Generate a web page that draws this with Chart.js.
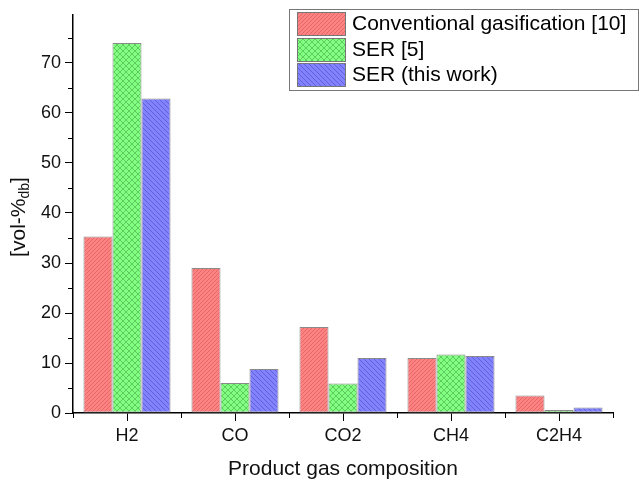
<!DOCTYPE html>
<html>
<head>
<meta charset="utf-8">
<script src="https://cdn.jsdelivr.net/npm/chart.js@4/dist/chart.umd.min.js"></script>
<style>
html,body{margin:0;padding:0;background:#fff;}
#wrap{width:639px;height:482px;}
</style>
</head>
<body>
<div id="wrap"><canvas id="c" width="639" height="482"></canvas></div>
<script>
const categories = ["H2", "CO", "CO2", "CH4", "C2H4"];
const conventional = [35.3, 29.0, 17.2, 11.0, 3.5];
const ser5 = [74.0, 6.0, 5.9, 11.7, 0.6];
const serThisWork = [62.9, 8.8, 11.0, 11.4, 1.1];
const seriesNames = ["Conventional gasification [10]", "SER [5]", "SER (this work)"];
const yTicks = [0, 10, 20, 30, 40, 50, 60, 70];
const yMinorTicks = [5, 15, 25, 35, 45, 55, 65, 75];
const yMax = 79.6;

const FONT = "'Liberation Sans', Arial, sans-serif";

function makePattern(base, lineColor, s, kind) {
  const c = document.createElement('canvas');
  c.width = s; c.height = s;
  const g = c.getContext('2d');
  g.fillStyle = base;
  g.fillRect(0, 0, s, s);
  g.strokeStyle = lineColor;
  g.lineWidth = 0.8;
  function fwd() {
    g.beginPath();
    g.moveTo(-1, s + 1); g.lineTo(s + 1, -1);
    g.moveTo(-1, 1); g.lineTo(1, -1);
    g.moveTo(s - 1, s + 1); g.lineTo(s + 1, s - 1);
    g.stroke();
  }
  function back() {
    g.beginPath();
    g.moveTo(-1, -1); g.lineTo(s + 1, s + 1);
    g.moveTo(s - 1, -1); g.lineTo(s + 1, 1);
    g.moveTo(-1, s - 1); g.lineTo(1, s + 1);
    g.stroke();
  }
  if (kind === 'fwd') fwd();
  else if (kind === 'back') back();
  else { fwd(); back(); }
  return g.createPattern(c, 'repeat');
}

const redPat = makePattern('#ff8282', 'rgba(170,60,60,0.45)', 4, 'fwd');
const greenPat = makePattern('#82ff82', 'rgba(40,130,40,0.5)', 6, 'cross');
const bluePat = makePattern('#8282ff', 'rgba(40,40,140,0.45)', 5, 'back');
const patterns = [redPat, greenPat, bluePat];

const extras = {
  id: 'extras',
  afterDraw(chart) {
    const ctx = chart.ctx;
    const y = chart.scales.y, x = chart.scales.x;
    const area = chart.chartArea;
    ctx.save();
    ctx.strokeStyle = '#000';
    ctx.lineWidth = 1;
    yMinorTicks.forEach(v => {
      const py = Math.round(y.getPixelForValue(v)) + 0.5;
      ctx.beginPath();
      ctx.moveTo(area.left - 5, py);
      ctx.lineTo(area.left, py);
      ctx.stroke();
    });
    for (let i = 0; i <= categories.length; i++) {
      const px = Math.round(x.getPixelForValue(i - 0.5)) + 0.5;
      ctx.beginPath();
      ctx.moveTo(px, area.bottom);
      ctx.lineTo(px, area.bottom + 5);
      ctx.stroke();
    }
    ctx.fillStyle = '#111';
    ctx.textBaseline = 'alphabetic';
    const mainFont = '21px ' + FONT, subFont = '14px ' + FONT;
    ctx.font = mainFont;
    const w1 = ctx.measureText('[vol-%').width;
    const w3 = ctx.measureText(']').width;
    ctx.font = subFont;
    const w2 = ctx.measureText('db').width;
    const total = w1 + w2 + w3;
    const cy = (area.top + area.bottom) / 2 + 3;
    ctx.translate(25, cy);
    ctx.rotate(-Math.PI / 2);
    let tx = -total / 2;
    ctx.font = mainFont;
    ctx.fillText('[vol-%', tx, 0); tx += w1;
    ctx.font = subFont;
    ctx.fillText('db', tx, 4); tx += w2;
    ctx.font = mainFont;
    ctx.fillText(']', tx, 0);
    ctx.restore();

    ctx.save();
    const lx = 289.5, ly = 9.5, lw = 349, lh = 81;
    ctx.fillStyle = '#fff';
    ctx.fillRect(lx, ly, lw, lh);
    ctx.strokeStyle = '#777';
    ctx.lineWidth = 1;
    ctx.strokeRect(lx, ly, lw, lh);
    const rowsY = [12, 38, 63];
    chart.data.datasets.forEach((ds, i) => {
      const sy = rowsY[i];
      ctx.fillStyle = ds.backgroundColor;
      ctx.fillRect(297, sy, 48, 23);
      ctx.strokeStyle = '#777';
      ctx.strokeRect(297.5, sy + 0.5, 48, 23);
      ctx.fillStyle = '#000';
      ctx.font = '21px ' + FONT;
      ctx.textBaseline = 'middle';
      ctx.fillText(ds.label, 352, sy + 12.5);
    });
    ctx.restore();
  }
};

new Chart(document.getElementById('c'), {
  type: 'bar',
  data: {
    labels: categories,
    datasets: [conventional, ser5, serThisWork].map((d, i) => ({
      label: seriesNames[i],
      data: d,
      backgroundColor: patterns[i],
      borderColor: '#8a8a8a',
      borderWidth: 1,
      borderSkipped: false,
      categoryPercentage: 0.806,
      barPercentage: 1.0
    }))
  },
  options: {
    responsive: false,
    animation: false,
    devicePixelRatio: 1,
    layout: { padding: { top: 15, right: 26, left: 0, bottom: 0 } },
    plugins: { legend: { display: false }, tooltip: { enabled: false } },
    scales: {
      x: {
        grid: { display: true, drawOnChartArea: false, offset: false, tickLength: 8, color: '#000', lineWidth: 1 },
        border: { display: true, color: '#000', width: 1.5 },
        ticks: { color: '#111', font: { family: FONT, size: 18 }, padding: 4 },
        title: { display: true, text: 'Product gas composition', color: '#111', font: { family: FONT, size: 21 }, padding: { top: 4, bottom: 0 } },
        afterFit(s) { s.height = 69; }
      },
      y: {
        min: 0,
        max: yMax,
        afterBuildTicks(s) { s.ticks = yTicks.map(v => ({ value: v })); },
        grid: { display: true, drawOnChartArea: false, tickLength: 8, color: '#000', lineWidth: 1 },
        border: { display: true, color: '#000', width: 1.5 },
        ticks: { color: '#111', font: { family: FONT, size: 18 }, padding: 4 },
        afterFit(s) { s.width = 73; }
      }
    }
  },
  plugins: [extras]
});
</script>
</body>
</html>
